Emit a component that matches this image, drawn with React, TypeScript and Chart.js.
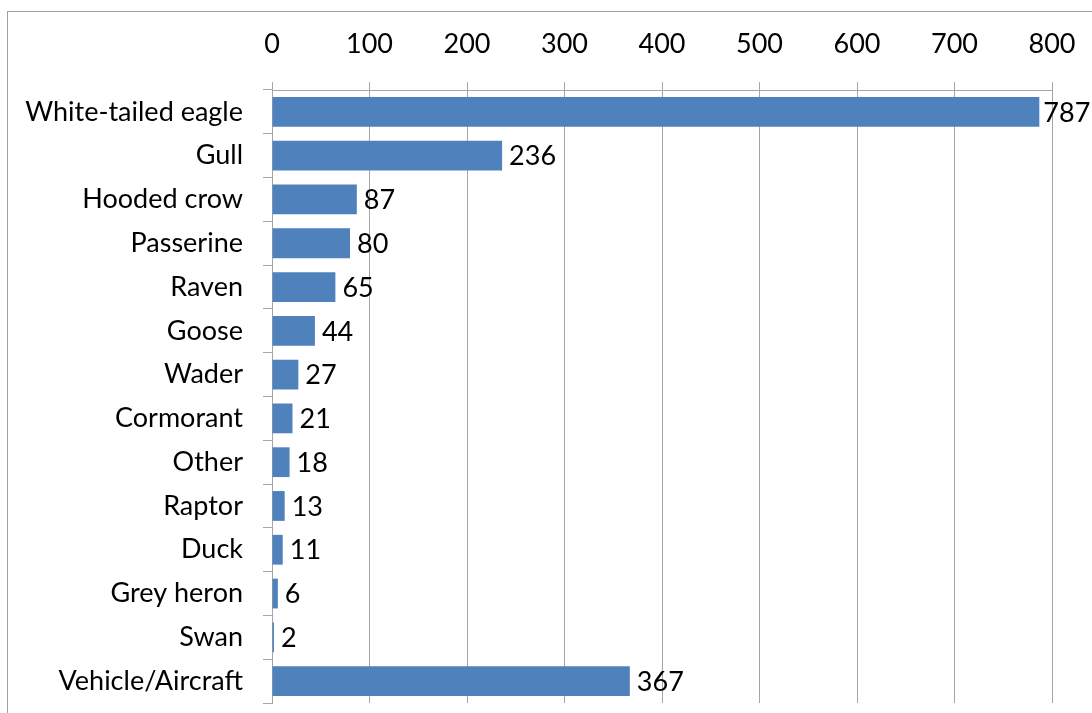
import React, { useEffect, useRef } from "react";
import { Chart, registerables } from "chart.js";

Chart.register(...registerables);

const categories = [
  "White-tailed eagle",
  "Gull",
  "Hooded crow",
  "Passerine",
  "Raven",
  "Goose",
  "Wader",
  "Cormorant",
  "Other",
  "Raptor",
  "Duck",
  "Grey heron",
  "Swan",
  "Vehicle/Aircraft",
];
const values = [787, 236, 87, 80, 65, 44, 27, 21, 18, 13, 11, 6, 2, 367];
const xTicks = [0, 100, 200, 300, 400, 500, 600, 700, 800];

const FONT = "Lato";
const FONT_SIZE = 27;

const frame = {
  id: "frame",
  beforeDraw(chart: any) {
    const ctx = chart.ctx;
    ctx.save();
    ctx.fillStyle = "#ffffff";
    ctx.fillRect(0, 0, chart.width, chart.height);
    ctx.strokeStyle = "#a0a0a0";
    ctx.lineWidth = 1;
    ctx.strokeRect(7.5, 11.5, chart.width + 50, chart.height + 50);
    ctx.restore();
  },
};

const valueLabels = {
  id: "valueLabels",
  afterDatasetsDraw(chart: any) {
    const ctx = chart.ctx;
    const meta = chart.getDatasetMeta(0);
    ctx.save();
    ctx.font = `${FONT_SIZE}px ${FONT}`;
    ctx.fillStyle = "#000000";
    ctx.textAlign = "left";
    ctx.textBaseline = "middle";
    meta.data.forEach((bar: any, i: number) => {
      const v = chart.data.datasets[0].data[i];
      const gap = v > 700 ? 4 : 7;
      ctx.fillText(String(v), bar.x + gap, bar.y + 1);
    });
    ctx.restore();
  },
};

export default function App() {
  const ref = useRef<HTMLCanvasElement>(null);
  useEffect(() => {
    if (!ref.current) return;
    const chart = new Chart(ref.current, {
      type: "bar",
      data: {
        labels: categories,
        datasets: [
          {
            data: values,
            backgroundColor: "#4f81bd",
            borderWidth: 0,
            barPercentage: 0.68,
            categoryPercentage: 1,
          },
        ],
      },
      options: {
        indexAxis: "y",
        animation: false,
        responsive: false,
        maintainAspectRatio: false,
        layout: { padding: { left: 0, top: 0, right: 40, bottom: 10 } },
        plugins: {
          legend: { display: false },
          tooltip: { enabled: false },
        },
        scales: {
          x: {
            position: "top",
            min: 0,
            max: 800,
            afterBuildTicks: (scale: any) => {
              scale.ticks = xTicks.map((v) => ({ value: v }));
            },
            afterFit: (scale: any) => {
              scale.height = 90;
              scale.paddingLeft = 0;
              scale.paddingRight = 0;
            },
            ticks: {
              font: { family: FONT, size: FONT_SIZE },
              color: "#000000",
              padding: 22,
              maxRotation: 0,
            },
            grid: {
              color: "#a6a6a6",
              tickLength: 8,
              lineWidth: 1,
            },
            border: { color: "#a6a6a6" },
          },
          y: {
            afterFit: (scale: any) => {
              scale.width = 272;
              scale.paddingTop = 0;
              scale.paddingBottom = 0;
            },
            ticks: {
              font: { family: FONT, size: FONT_SIZE },
              color: "#000000",
              padding: 20,
            },
            grid: {
              offset: true,
              drawOnChartArea: false,
              color: "#a6a6a6",
              tickLength: 9,
            },
            border: { color: "#a6a6a6" },
          },
        },
      },
      plugins: [frame, valueLabels],
    });
    return () => chart.destroy();
  }, []);
  return (
    <div style={{ position: "fixed", left: 0, top: 0, width: 1092, height: 713, background: "#fff" }}>
      <canvas ref={ref} width={1092} height={713} style={{ display: "block" }} />
    </div>
  );
}
